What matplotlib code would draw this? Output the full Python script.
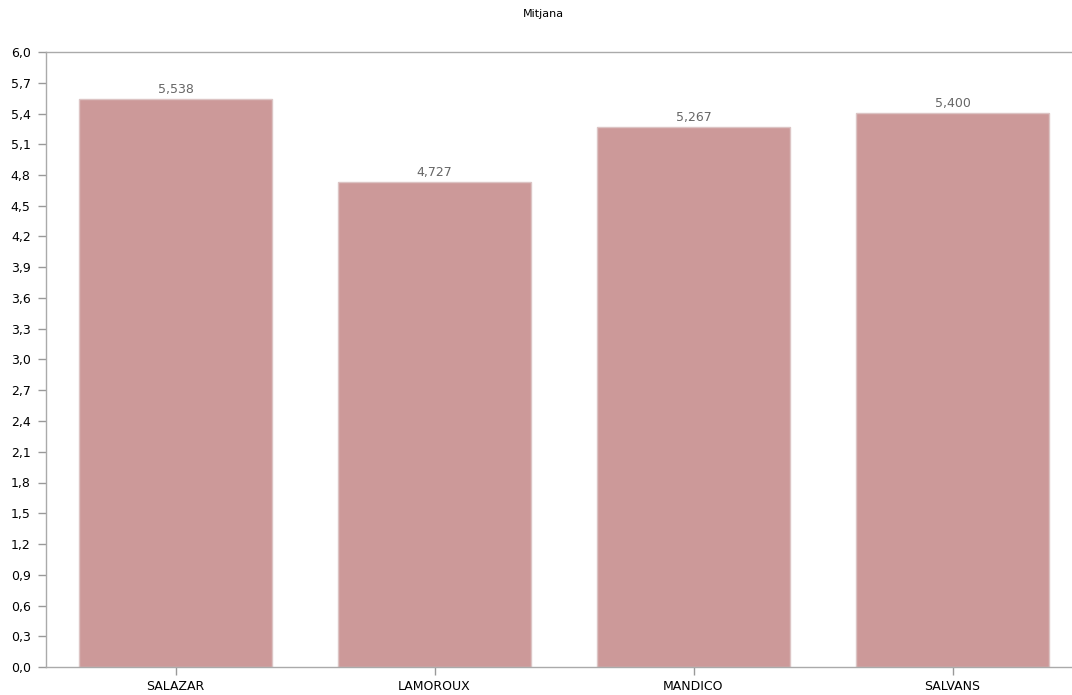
import matplotlib.pyplot as plt
import numpy as np

names = ['SALAZAR', 'LAMOROUX', 'MANDICO', 'SALVANS']
means = [5.538, 4.727, 5.267, 5.400]
yticks = np.arange(0, 21) * 0.3

fig = plt.figure(figsize=(10.72, 6.95), dpi=100)
W, H = 1072, 695
left, right, top, bottom = 46, 1082, 52, 667
ax = fig.add_axes([left / W, 1 - bottom / H, (right - left) / W, (bottom - top) / H])

x = np.arange(len(names))
ax.bar(x, means, width=0.745, color='#cc9999', edgecolor='#dcc4c4', linewidth=1, zorder=2)
for xi, v in zip(x, means):
    ax.text(xi, v + 0.035, f'{v:.3f}'.replace('.', ','), ha='center', va='bottom',
            fontsize=9, color='#666666')

ax.set_xlim(-0.5, len(names) - 0.5)
ax.set_ylim(0, 6.0)
ax.set_yticks(yticks)
ax.set_yticklabels([f'{t:.1f}'.replace('.', ',') for t in yticks])
ax.set_xticks(x)
ax.set_xticklabels(names)
ax.tick_params(axis='both', labelsize=9, colors='#999999', labelcolor='#000000',
               length=6, width=1)
ax.tick_params(axis='y', pad=5)
ax.tick_params(axis='x', pad=3)

for s in ['left', 'top', 'bottom']:
    ax.spines[s].set_color('#aaaaaa')
    ax.spines[s].set_linewidth(1)
ax.spines['right'].set_visible(False)

fig.text(543 / W, 1 - 14 / H, 'Mitjana', ha='center', va='center', fontsize=8)

fig.savefig('out.png', dpi=100)
